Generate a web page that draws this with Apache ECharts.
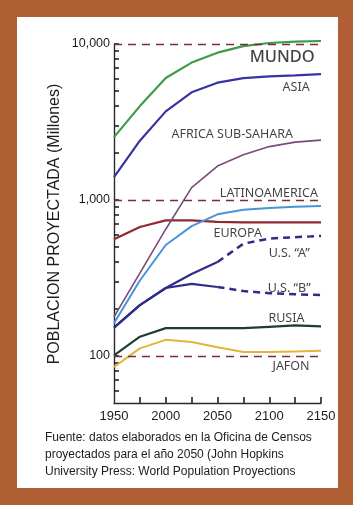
<!DOCTYPE html>
<html>
<head>
<meta charset="utf-8">
<script src="https://cdn.jsdelivr.net/npm/echarts@6/dist/echarts.min.js"></script>
<style>
html,body{margin:0;padding:0;background:#b05e34;}
#c{width:353px;height:505px;}
</style>
</head>
<body>
<div id="c"></div>
<script>
// ---- data ----
const years = [1950, 1975, 2000, 2025, 2050, 2075, 2100, 2125, 2150];
const mundo = [2530, 4000, 6050, 7600, 8800, 9700, 10150, 10350, 10450];
const asia = [1400, 2400, 3700, 4900, 5650, 6050, 6200, 6300, 6420];
const africa = [178, 340, 650, 1200, 1650, 1950, 2200, 2350, 2420];
const latam = [162, 305, 515, 680, 810, 865, 890, 905, 915];
const europa = [560, 672, 740, 740, 725, 720, 720, 720, 720];
const usAYearsSolid = [1950, 1975, 2000, 2025, 2050];
const usASolid = [152, 212, 273, 336, 400];
const usAYearsDash = [2050, 2075, 2100, 2125, 2150];
const usADash = [400, 525, 566, 578, 588];
const usBSolid = [152, 212, 273, 290, 277];
const usBDash = [277, 261, 253, 249, 246];
const rusia = [101, 133, 151, 151, 151, 151, 154, 157, 155];
const japon = [85, 112, 127, 123, 114, 106, 106, 107, 108];
const yMajorTicks = [100, 1000, 10000];
const yMinorTicks = [60, 70, 80, 90, 200, 300, 400, 500, 600, 700, 800, 900,
  2000, 3000, 4000, 5000, 6000, 7000, 8000, 9000];
const xTicks = [1975, 2000, 2025, 2050, 2075, 2100, 2125, 2150];
const xLabels = [1950, 2000, 2050, 2100, 2150];
// label anchors (year, value at right-end of text)
const labelNames = ['MUNDO', 'ASIA', 'AFRICA SUB-SAHARA', 'LATINOAMERICA', 'EUROPA', 'U.S. \u201CA\u201D', 'U.S. \u201CB\u201D', 'RUSIA', 'JAFON'];
const labelYears = [2144, 2139, 2123, 2147, 2093, 2139, 2140, 2134, 2139];
const labelValues = [8250, 5300, 2650, 1110, 614, 457, 273, 175, 86];
const caption = ['Fuente: datos elaborados en la Oficina de Censos',
  'proyectados para el año 2050 (John Hopkins',
  'University Press: World Population Proyections'];

const pair = (xs, ys) => xs.map((x, i) => [x, ys[i]]);
const fmt = v => String(Math.round(v)).replace(/\B(?=(\d{3})+(?!\d))/g, ',');

function line(name, xs, ys, color, width, dashed) {
  return {
    type: 'line', name: name, data: pair(xs, ys), showSymbol: false, symbol: 'none',
    smooth: false, clip: false,
    lineStyle: { color: color, width: width, type: dashed ? [7, 5] : 'solid' },
    z: 3
  };
}

const chart = echarts.init(document.getElementById('c'), null, { renderer: 'canvas' });
const FONT = '"Liberation Sans", Arial, sans-serif';
const LFONT = '"Noto Sans", "Open Sans", sans-serif';
chart.setOption({
  backgroundColor: '#b05e34',
  animation: false,
  graphic: [
    { type: 'rect', shape: { x: 17, y: 17, width: 321, height: 471 }, style: { fill: '#ffffff' }, z: -10, silent: true },
    { type: 'text', x: 55, y: 224, rotation: Math.PI / 2,
      style: { text: 'POBLACION PROYECTADA (Millones)', font: '16px ' + FONT, fill: '#1c1c1c', textAlign: 'center', textVerticalAlign: 'middle' } },
    { type: 'text', x: 45, y: 438, style: { text: caption[0], font: '12px ' + FONT, fill: '#1c1c1c', textVerticalAlign: 'middle' } },
    { type: 'text', x: 45, y: 455, style: { text: caption[1], font: '12px ' + FONT, fill: '#1c1c1c', textVerticalAlign: 'middle' } },
    { type: 'text', x: 45, y: 472, style: { text: caption[2], font: '12px ' + FONT, fill: '#1c1c1c', textVerticalAlign: 'middle' } }
  ],
  grid: { left: 114, right: 32, top: 44, bottom: 102, containLabel: false },
  xAxis: {
    type: 'value', min: 1950, max: 2150, interval: 25,
    axisLine: { show: true, lineStyle: { color: '#2a2a2a', width: 1.4 } },
    axisTick: { show: true, inside: true, length: 6, customValues: xTicks,
      lineStyle: { color: '#222', width: 1.6 } },
    splitLine: { show: false },
    axisLabel: { color: '#1c1c1c', fontSize: 13, fontFamily: FONT, margin: 7,
      customValues: xLabels, formatter: v => String(v) }
  },
  yAxis: {
    type: 'log', logBase: 10, min: 50, max: 10000,
    axisLine: { show: true, lineStyle: { color: '#2a2a2a', width: 1.4 } },
    axisTick: { show: true, inside: true, length: 5, customValues: yMinorTicks.concat(yMajorTicks),
      lineStyle: { color: '#222', width: 1.6 } },
    splitLine: { show: false },
    minorTick: { show: false },
    axisLabel: { color: '#1c1c1c', fontSize: 12.5, fontFamily: FONT, margin: 4,
      customValues: yMajorTicks,
      formatter: v => fmt(v) }
  },
  series: [
    line('Japón', years, japon, '#e3b43a', 2),
    line('Rusia', years, rusia, '#1f3d33', 2.2),
    line('US B', usAYearsSolid, usBSolid, '#2f2b88', 2.2),
    line('US B dash', usAYearsDash, usBDash, '#2f2b88', 2.5, true),
    line('US A', usAYearsSolid, usASolid, '#2f2b88', 2.2),
    line('US A dash', usAYearsDash, usADash, '#2f2b88', 2.5, true),
    line('Europa', years, europa, '#8f2a30', 2.2),
    line('Latinoamérica', years, latam, '#4a93dc', 2),
    line('África', years, africa, '#7a4b78', 1.6),
    line('Asia', years, asia, '#3833a2', 2.2),
    line('Mundo', years, mundo, '#3d9b4a', 2.2),
    {
      type: 'scatter', name: 'labels', symbolSize: 0, silent: true,
      data: labelNames.map((n, i) => ({
        value: [labelYears[i], labelValues[i]], name: n,
        label: i === 0 ? { fontSize: 16.5, fontWeight: 500 } : undefined
      })),
      label: {
        show: true, position: 'left', distance: 0, formatter: p => p.name,
        fontFamily: LFONT, fontSize: 12.5, color: '#111'
      },
      labelLayout: { hideOverlap: false },
      z: 5
    },
    {
      type: 'line', name: 'refs', data: [], symbol: 'none',
      markLine: {
        silent: true, symbol: 'none', label: { show: false },
        lineStyle: { color: '#7b2c3c', width: 1.3, type: [8, 6] },
        data: yMajorTicks.map(v => ({ yAxis: v }))
      },
      z: 2
    }
  ]
});
</script>
</body>
</html>
